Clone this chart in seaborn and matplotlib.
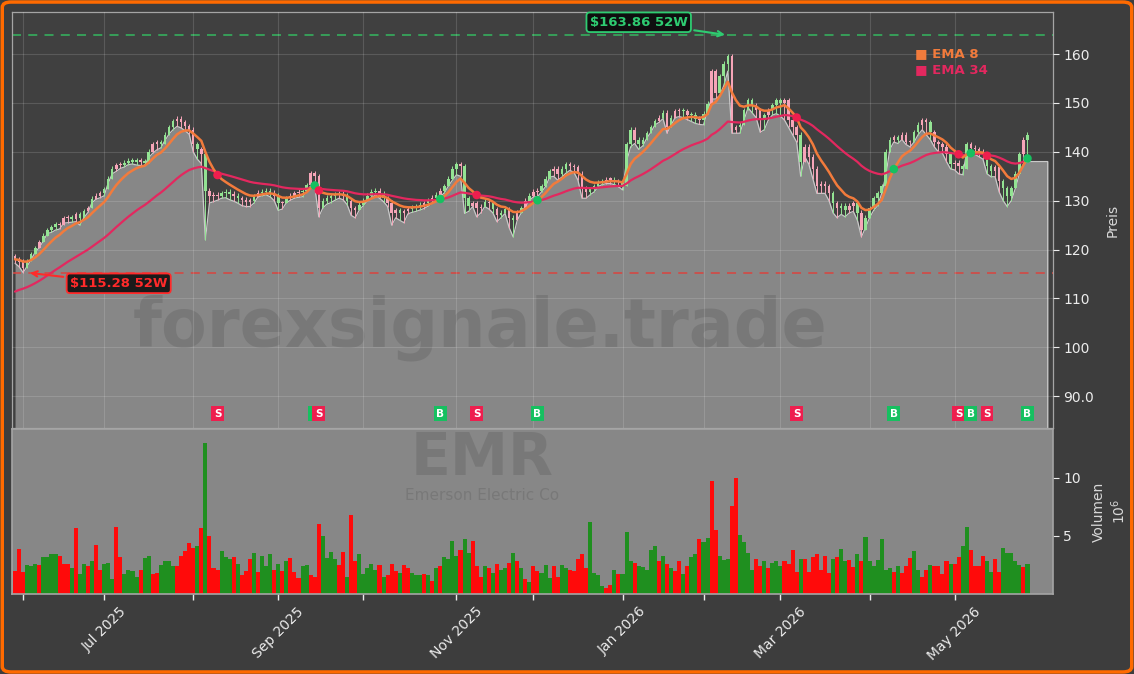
import matplotlib

matplotlib.use("Agg")
import matplotlib.pyplot as plt
import numpy as np
import pandas as pd
import seaborn as sns
from matplotlib.patches import FancyBboxPatch

START, END = "2025-05-29", "2026-05-28"
HOLIDAYS = ["2025-06-19", "2025-07-04", "2025-09-01", "2025-11-27", "2025-12-25",
            "2026-01-01", "2026-01-19", "2026-02-16", "2026-04-03", "2026-05-25"]

close = [
    118.0, 117.5, 116.3, 117.6, 119.0, 120.3, 121.5, 122.8, 124.0, 124.6,
    125.2, 125.0, 126.4, 126.6, 126.3, 127.2, 126.5, 127.8, 128.5, 130.4,
    131.0, 131.5, 132.3, 134.5, 136.5, 137.2, 137.4, 137.8, 138.2, 138.0,
    138.3, 138.0, 137.8, 140.0, 141.5, 142.0, 141.5, 143.5, 145.0, 146.2,
    146.8, 146.0, 145.2, 144.5, 141.5, 140.5, 139.5, 132.0, 131.0, 131.2,
    131.0, 131.5, 131.8, 131.4, 131.0, 130.5, 130.2, 129.8, 130.0, 130.8,
    131.6, 131.8, 132.0, 131.6, 131.0, 129.5, 129.5, 130.5, 131.0, 131.5,
    131.8, 132.0, 133.2, 135.6, 135.0, 128.5, 130.0, 130.6, 131.0, 131.2,
    131.4, 131.0, 130.0, 128.5, 128.0, 129.2, 130.0, 131.0, 131.8, 132.0,
    131.4, 130.5, 129.6, 127.5, 128.0, 127.5, 127.8, 128.3, 128.6, 128.8,
    129.2, 129.5, 130.0, 130.6, 131.2, 132.0, 133.0, 134.5, 136.5, 137.5,
    137.0, 130.5, 129.0, 129.5, 128.5, 128.8, 129.8, 129.5, 128.2, 127.0,
    127.5, 128.3, 126.5, 126.0, 127.5, 128.5, 130.0, 131.0, 131.8, 132.0,
    133.0, 134.5, 136.0, 136.5, 135.5, 136.5, 137.5, 137.0, 136.8, 135.5,
    132.5, 131.8, 132.3, 133.0, 133.8, 134.0, 134.3, 134.3, 134.0, 133.8,
    133.0, 141.5, 144.5, 142.5, 141.5, 142.5, 143.8, 145.0, 146.3, 147.0,
    148.0, 145.0, 147.0, 148.3, 148.5, 148.3, 147.5, 147.6, 146.8, 146.5,
    147.8, 149.8, 156.5, 152.0, 155.5, 158.0, 159.5, 144.5, 145.0, 145.5,
    148.5, 150.5, 149.5, 148.5, 146.5, 147.5, 148.5, 149.5, 150.5, 150.0,
    150.5, 146.5, 145.0, 143.5, 138.0, 141.0, 139.0, 136.5, 133.0, 133.5,
    133.0, 131.5, 129.5, 128.5, 129.0, 128.0, 129.0, 129.5, 127.5, 124.0,
    126.5, 128.5, 130.5, 131.5, 133.0, 140.0, 142.5, 143.0, 142.5, 143.5,
    142.0, 142.0, 144.0, 145.5, 146.5, 146.0, 144.0, 142.0, 141.5, 141.0,
    139.5, 137.5, 137.8, 137.0, 136.5, 141.5, 140.8, 140.5, 140.0, 139.5,
    137.0, 136.0, 136.8, 134.0, 132.5, 131.0, 132.5, 135.5, 139.5, 142.5,
    143.5,
]

low = [
    117.2, 116.5, 115.3, 116.6, 118.0, 119.5, 120.4, 121.8, 123.3, 123.5,
    124.0, 124.2, 125.4, 125.5, 125.6, 125.7, 125.0, 126.5, 127.6, 129.6,
    130.3, 130.6, 131.0, 133.6, 135.5, 136.0, 136.6, 136.9, 137.4, 137.5,
    137.3, 137.2, 137.2, 138.8, 139.7, 140.4, 140.8, 142.3, 143.6, 144.5,
    145.2, 144.9, 144.3, 143.6, 140.0, 138.5, 137.6, 122.0, 129.5, 129.8,
    130.1, 130.5, 130.6, 130.2, 129.9, 129.5, 129.0, 128.8, 128.8, 129.5,
    130.8, 131.0, 131.2, 130.8, 130.0, 128.0, 128.3, 129.6, 130.1, 130.5,
    130.7, 130.8, 131.9, 133.0, 133.0, 126.7, 128.5, 129.3, 129.6, 130.1,
    130.5, 130.2, 129.2, 127.0, 126.5, 128.1, 129.0, 130.0, 130.6, 131.2,
    130.5, 129.8, 128.8, 125.0, 126.5, 126.0, 125.5, 127.3, 127.6, 127.8,
    128.1, 128.4, 128.9, 129.5, 130.1, 130.8, 131.6, 133.0, 134.2, 135.3,
    135.0, 127.4, 127.8, 128.8, 126.7, 127.5, 128.8, 128.3, 127.5, 125.7,
    126.5, 127.4, 124.5, 122.6, 126.0, 127.5, 128.8, 130.0, 130.8, 130.8,
    131.8, 132.9, 134.8, 135.0, 134.2, 134.8, 135.6, 136.2, 135.8, 134.2,
    130.5, 130.5, 131.2, 131.8, 132.9, 133.3, 133.5, 133.5, 133.3, 132.9,
    132.2, 138.0, 141.0, 141.7, 140.5, 141.2, 142.8, 144.0, 145.5, 146.0,
    146.8, 143.8, 145.5, 147.0, 147.2, 147.0, 146.6, 146.2, 145.8, 145.6,
    145.5, 148.5, 150.8, 150.8, 151.5, 153.5, 156.5, 143.8, 143.8, 143.8,
    146.5, 149.0, 148.0, 147.0, 144.0, 144.5, 146.5, 147.5, 147.8, 147.3,
    146.5, 145.0, 143.5, 142.0, 135.0, 139.0, 137.5, 134.5, 131.5, 131.5,
    131.5, 130.0, 127.5, 126.5, 127.2, 126.7, 127.5, 127.8, 126.0, 122.6,
    124.5, 126.5, 128.0, 129.0, 131.5, 135.0, 140.5, 142.0, 141.7, 142.5,
    141.5, 141.0, 142.0, 143.5, 144.5, 143.5, 142.5, 141.0, 140.0, 139.7,
    138.0, 136.5, 136.3, 135.5, 135.3, 140.0, 140.0, 139.5, 139.0, 138.5,
    135.5, 134.9, 134.9, 131.8, 130.0, 128.8, 130.0, 132.5, 135.5, 137.5,
    138.0,
]

# volume in millions of shares
volume = [
    2.0, 3.9, 1.9, 2.5, 2.4, 2.6, 2.5, 3.2, 3.2, 3.4,
    3.4, 3.3, 2.6, 2.6, 2.2, 5.7, 1.7, 2.6, 2.4, 2.8,
    4.2, 2.1, 2.6, 2.7, 1.3, 5.8, 3.2, 1.7, 2.1, 2.0,
    1.5, 2.1, 3.1, 3.3, 1.7, 1.8, 2.5, 2.8, 2.8, 2.4,
    2.4, 3.3, 3.7, 4.4, 4.0, 4.1, 5.7, 13.0, 5.0, 2.2,
    2.1, 3.7, 3.2, 3.0, 3.2, 2.6, 1.6, 2.0, 3.0, 3.5,
    1.9, 3.3, 2.4, 3.4, 2.1, 2.6, 2.0, 2.8, 3.1, 1.9,
    1.4, 2.4, 2.5, 1.6, 1.5, 6.0, 5.0, 3.1, 3.6, 3.0,
    2.5, 3.6, 1.5, 6.8, 2.8, 3.4, 1.7, 2.2, 2.6, 2.1,
    2.5, 1.5, 1.6, 2.6, 2.0, 1.8, 2.5, 2.2, 1.8, 1.6,
    1.6, 1.7, 1.6, 1.1, 2.2, 2.4, 3.2, 3.0, 4.6, 3.3,
    3.8, 4.7, 3.5, 4.6, 2.4, 1.5, 2.4, 2.2, 1.8, 2.6,
    2.1, 2.2, 2.7, 3.5, 2.8, 2.2, 1.3, 1.0, 2.4, 2.0,
    1.8, 2.5, 1.4, 2.4, 1.5, 2.5, 2.2, 2.1, 2.0, 3.0,
    3.4, 2.2, 6.2, 1.8, 1.6, 0.7, 0.5, 0.8, 2.1, 1.7,
    1.7, 5.3, 2.8, 2.7, 2.4, 2.3, 2.1, 3.8, 4.1, 2.8,
    3.3, 2.6, 2.2, 2.0, 2.8, 1.7, 2.4, 3.2, 3.4, 4.7,
    4.5, 4.8, 9.7, 5.5, 3.3, 2.9, 3.0, 7.6, 10.0, 5.1,
    4.5, 3.5, 2.1, 3.0, 2.4, 2.8, 2.2, 2.7, 2.8, 2.4,
    2.8, 2.6, 3.8, 1.9, 3.0, 3.0, 1.9, 3.2, 3.4, 2.1,
    3.3, 1.8, 3.0, 3.2, 3.9, 2.8, 2.9, 2.3, 3.4, 2.8,
    4.9, 2.8, 2.4, 2.9, 4.7, 2.1, 2.2, 1.9, 2.4, 1.8,
    2.4, 3.1, 3.7, 2.1, 1.5, 2.1, 2.5, 2.4, 2.4, 1.7,
    2.8, 2.6, 2.6, 3.2, 4.1, 5.8, 3.8, 2.4, 2.4, 3.3,
    2.8, 1.9, 3.0, 1.9, 4.0, 3.5, 3.5, 2.8, 2.5, 2.3,
    2.6,
]

# g = up day, r = down day (as coloured in the volume panel)
direction = (
    "rrrgggrggg" "grrrgrggrg" "rrgggrrggg" "grggrrgggg" "rrrrrgrgrr"
    "rgggrgrrrg" "rgggrgrgrr" "rggrrrgggg" "rrgrrggggg" "rgrrrgrrgg"
    "grgrgrgggg" "rggrrrgrgr" "ggrgrgrgrr" "gggrrggrrr" "rrggggrrgr"
    "gggrgggggr" "grgrrgrggr" "ggrrgggrrg" "gggrrgrggg" "rrrrgrrrrr"
    "rrgrggrrgr" "gggggggrgr" "rrggrrgrrr" "rgrrggrrrr" "ggrrgggggr"
    "g"
)

EMA34_SEED = 111.4
HIGH_52W = 163.86
LOW_52W = 115.28
TICKER = "EMR"
COMPANY = "Emerson Electric Co"
WATERMARK = "forexsignale.trade"
PRICE_TICKS = [90, 100, 110, 120, 130, 140, 150, 160]
PRICE_TICK_LABELS = ["90.0", "100", "110", "120", "130", "140", "150", "160"]
VOLUME_TICKS = [5, 10]

BG = "#3d3d3d"
AX_BG = "#404040"
FILL = "#878787"
EDGE = "#c9c9c9"
SPINE = "#a5a5a5"
TEXT = "#ececec"
EMA8_C = "#f27b3c"
EMA34_C = "#e3285f"
BUY_C = "#16c060"
SELL_C = "#ee1e4e"


def main() -> None:
    dates = pd.bdate_range(START, END)
    dates = dates[~dates.isin(pd.to_datetime(HOLIDAYS))]
    df = pd.DataFrame({"date": dates, "close": close, "low": low, "volume": volume})
    df["up"] = [c == "g" for c in direction]
    df["idx"] = np.arange(len(df))
    df["open"] = df.close.shift(1).fillna(df.close.iloc[0] + 0.6)
    df["ema8"] = df.close.ewm(span=8, adjust=False).mean()
    seeded = pd.concat([pd.Series([EMA34_SEED]), df.close.iloc[1:]], ignore_index=True)
    df["ema34"] = seeded.ewm(span=34, adjust=False).mean()

    side = np.sign(df.ema8 - df.ema34)
    flips = side.ne(side.shift()) & side.shift().notna()
    signals = df[flips].assign(kind=np.where(side[flips] > 0, "B", "S"))

    sns.set_theme(style="dark", rc={"figure.facecolor": BG, "axes.facecolor": AX_BG})
    fig = plt.figure(figsize=(11.34, 6.74), dpi=100)
    ax = fig.add_axes([12 / 1134, 1 - 428 / 674, 1041 / 1134, 416 / 674])
    axv = fig.add_axes([12 / 1134, 1 - 594 / 674, 1041 / 1134, 165 / 674], sharex=ax)

    ymin, ymax = 83.5, 168.6
    x_end = len(df) - 1 + 5
    xf = np.r_[df.idx, x_end]
    lf = np.r_[df.low, df.low.iloc[-1]]
    ax.fill_between(xf, lf, ymin, color=FILL, lw=0, zorder=1)
    ax.plot(np.r_[xf, x_end], np.r_[lf, ymin], color=EDGE, lw=0.9, zorder=2)

    # candles
    body_lo = np.minimum(df.open, df.close)
    body_hi = np.maximum(df.open, df.close)
    cols = np.where(df.up, "#93e393", "#f6a5b8")
    ax.vlines(df.idx, np.minimum(df.low, body_lo), body_hi + 0.5, colors=cols, lw=0.7, zorder=3)
    ax.bar(df.idx, np.maximum(body_hi - body_lo, 0.25), bottom=body_lo, width=0.62,
           color=cols, linewidth=0, zorder=3.5)

    sns.lineplot(data=df, x="idx", y="ema8", color=EMA8_C, lw=1.8, ax=ax, zorder=5)
    sns.lineplot(data=df, x="idx", y="ema34", color=EMA34_C, lw=1.6, ax=ax, zorder=4.5)

    ax.axhline(HIGH_52W, color="#35b760", ls=(0, (5, 4)), lw=1.3, alpha=0.85, zorder=2)
    ax.axhline(LOW_52W, color="#d9443f", ls=(0, (5, 4)), lw=1.3, alpha=0.85, zorder=2)

    sig_cols = np.where(signals.kind == "B", BUY_C, SELL_C)
    ax.scatter(signals.idx, signals.ema8, c=sig_cols, s=38, zorder=6, linewidths=0)
    for _, row in signals.iterrows():
        fc = BUY_C if row.kind == "B" else SELL_C
        ax.text(row.idx, 86.4, row.kind, ha="center", va="center", color="white",
                fontsize=7.5, fontweight="bold", zorder=7,
                bbox=dict(boxstyle="square,pad=0.25", fc=fc, ec="none"))

    ihi = int(df.close.idxmax())
    ilo = int(df.low.idxmin())
    ax.annotate(f"${HIGH_52W:.2f} 52W", xy=(ihi, HIGH_52W), xytext=(154, 166.5),
                ha="center", va="center", color="#2ecc71", fontsize=9.5, fontweight="bold",
                bbox=dict(boxstyle="round,pad=0.25", fc="#0f0f0f", ec="#2ecc71", lw=1.3),
                arrowprops=dict(arrowstyle="->", color="#2ecc71", lw=1.5), zorder=8)
    ax.annotate(f"${LOW_52W:.2f} 52W", xy=(ilo + 1, LOW_52W), xytext=(25.6, 113.1),
                ha="center", va="center", color="#ff2a2a", fontsize=9.5, fontweight="bold",
                bbox=dict(boxstyle="round,pad=0.25", fc="#1a1a1a", ec="#ff2a2a", lw=1.3),
                arrowprops=dict(arrowstyle="->", color="#ff2a2a", lw=1.5), zorder=8)

    ax.text(0.867, 0.899, "■ EMA 8", transform=ax.transAxes, color=EMA8_C,
            fontsize=9.5, fontweight="bold", va="center")
    ax.text(0.867, 0.861, "■ EMA 34", transform=ax.transAxes, color=EMA34_C,
            fontsize=9.5, fontweight="bold", va="center")
    ax.text(0.4496, 0.24, WATERMARK, transform=ax.transAxes, ha="center", va="center",
            fontsize=48, fontweight="bold", color="#6a6a6a", alpha=0.5, zorder=2)

    month_idx = df.idx[df.date.dt.month.ne(df.date.dt.month.shift()) & (df.idx > 0)]
    month_lbl = [d.strftime("%b %Y") if d.month % 2 == 1 else "" for d in df.date[month_idx]]

    ax.set_xlim(-0.75, 256.3)
    ax.set_ylim(ymin, ymax)
    ax.set_axisbelow(False)
    ax.grid(True, color="white", alpha=0.14, lw=0.8, zorder=1.5)
    ax.yaxis.tick_right()
    ax.set_yticks(PRICE_TICKS, PRICE_TICK_LABELS)
    ax.yaxis.set_label_position("right")
    ax.set_ylabel("Preis", color="#d8d8d8", fontsize=10, labelpad=8)
    ax.set_xlabel("")
    ax.tick_params(axis="y", colors=TEXT, labelsize=10, length=4, width=0.8, right=True,
                   left=False, labelleft=False, labelright=True)
    ax.tick_params(axis="x", length=0, labelbottom=False)
    for s in ax.spines.values():
        s.set_color(SPINE)
        s.set_linewidth(0.9)

    # volume panel
    axv.set_facecolor(FILL)
    axv.bar(df.idx, df.volume, width=1.0, color=np.where(df.up, "#1f8f1f", "#ff0a0a"),
            linewidth=0, zorder=2)
    axv.text(0.452, 0.82, TICKER, transform=axv.transAxes, ha="center", va="center",
             fontsize=42, fontweight="bold", color="#6a6a6a", alpha=0.5, zorder=1)
    axv.text(0.452, 0.60, COMPANY, transform=axv.transAxes, ha="center", va="center",
             fontsize=11, color="#6a6a6a", alpha=0.5, zorder=1)
    axv.set_ylim(0, 14.2)
    axv.yaxis.tick_right()
    axv.set_yticks(VOLUME_TICKS)
    axv.yaxis.set_label_position("right")
    axv.set_ylabel("Volumen\n$10^6$", color="#d8d8d8", fontsize=10, labelpad=8)
    axv.set_xticks(month_idx, month_lbl)
    plt.setp(axv.get_xticklabels(), rotation=45)
    axv.tick_params(axis="x", colors=TEXT, labelsize=10, length=4, width=1, bottom=True)
    axv.tick_params(axis="y", colors=TEXT, labelsize=10, length=4, width=0.8, right=True,
                    left=False, labelleft=False, labelright=True)
    axv.set_xlabel("")
    for s in axv.spines.values():
        s.set_color(SPINE)
        s.set_linewidth(1.2)

    fig.add_artist(FancyBboxPatch((0.002, 0.003), 0.996, 0.994,
                                  boxstyle="round,pad=0,rounding_size=0.008",
                                  transform=fig.transFigure, fill=False,
                                  ec="#ff6a00", lw=2.5))
    fig.savefig("out.png", dpi=100, facecolor=fig.get_facecolor())
    plt.close(fig)


if __name__ == "__main__":
    main()
